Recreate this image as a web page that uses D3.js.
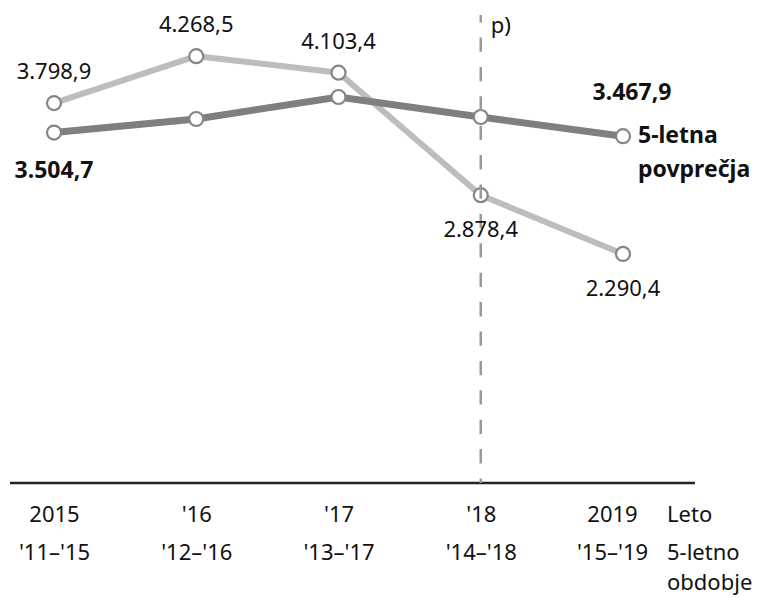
<!DOCTYPE html>
<html>
<head>
<meta charset="utf-8">
<script src="https://cdn.jsdelivr.net/npm/d3@7"></script>
<style>
  body { margin: 0; background: #fff; }
  svg text { font-family: "Noto Sans", sans-serif; fill: #111; }
</style>
</head>
<body>
<div id="chart"></div>
<script>
// Data
const years = ["2015", "'16", "'17", "'18", "2019"];
const periods = ["'11–'15", "'12–'16", "'13–'17", "'14–'18", "'15–'19"];
const annualValues = [3798.9, 4268.5, 4103.4, 2878.4, 2290.4];
const averageValues = [3504.7, 3640, 3860, 3660, 3467.9];
const provisionalYear = "'18";

const width = 758, height = 597;

const svg = d3.select("#chart")
    .append("svg")
    .attr("width", width)
    .attr("height", height);

// Scales
const xScale = d3.scalePoint()
    .domain(years)
    .range([54, 623]);

const yScale = d3.scaleLinear()
    .domain([0, 4830])
    .range([483, 0]);

const fmt = v => d3.format(",.1f")(v).replace(/,/g, "#").replace(".", ",").replace(/#/g, ".");

// X axis line
svg.append("line")
    .attr("x1", 10).attr("x2", 695)
    .attr("y1", yScale(0)).attr("y2", yScale(0))
    .attr("stroke", "#222")
    .attr("stroke-width", 2.5);

// Year labels (first row)
const axisYears = svg.append("g")
    .attr("transform", `translate(0,${yScale(0)})`)
    .call(d3.axisBottom(xScale).tickSize(0).tickPadding(0));
axisYears.select(".domain").remove();
axisYears.selectAll("text")
    .attr("y", 39).attr("dy", null)
    .attr("dx", (d, i) => i === years.length - 1 ? -11 : 0)
    .style("font-size", "22px");

// Period labels (second row)
const periodScale = d3.scalePoint().domain(periods).range(xScale.range());
const axisPeriods = svg.append("g")
    .attr("transform", `translate(0,${yScale(0)})`)
    .call(d3.axisBottom(periodScale).tickSize(0).tickPadding(0));
axisPeriods.select(".domain").remove();
axisPeriods.selectAll("text")
    .attr("y", 77).attr("dy", null)
    .attr("dx", (d, i) => i === periods.length - 1 ? -11 : 0)
    .style("font-size", "22px");

// Row titles
svg.append("text").attr("x", 667).attr("y", 522).text("Leto").style("font-size", "22px");
svg.append("text").attr("x", 667).attr("y", 560).text("5-letno").style("font-size", "22px");
svg.append("text").attr("x", 667).attr("y", 590).text("obdobje").style("font-size", "22px");

// Lines
const line = d3.line()
    .x((d, i) => xScale(years[i]))
    .y(d => yScale(d));

svg.append("path")
    .datum(annualValues)
    .attr("fill", "none")
    .attr("stroke", "#bdbdbd")
    .attr("stroke-width", 6)
    .attr("d", line);

svg.append("path")
    .datum(averageValues)
    .attr("fill", "none")
    .attr("stroke", "#7f7f7f")
    .attr("stroke-width", 7)
    .attr("d", line);

// Markers
[annualValues, averageValues].forEach(series => {
    svg.selectAll(null)
        .data(series)
        .enter().append("circle")
        .attr("cx", (d, i) => xScale(years[i]))
        .attr("cy", d => yScale(d))
        .attr("r", 7)
        .attr("fill", "#fff")
        .attr("stroke", "#858585")
        .attr("stroke-width", 2.2);
});

// Provisional marker line
svg.append("line")
    .attr("x1", xScale(provisionalYear)).attr("x2", xScale(provisionalYear))
    .attr("y1", 15).attr("y2", yScale(0))
    .attr("stroke", "#999")
    .attr("stroke-width", 2.5)
    .attr("stroke-dasharray", "14.3,15.1")
    .attr("stroke-dashoffset", 6.9);

svg.append("text")
    .attr("x", xScale(provisionalYear) + 10)
    .attr("y", 33)
    .text("p)")
    .style("font-size", "22px");

// Annual value labels
svg.selectAll(null)
    .data(annualValues)
    .enter().append("text")
    .attr("x", (d, i) => xScale(years[i]))
    .attr("y", (d, i) => yScale(d) + (i >= 3 ? 42 : -24))
    .attr("text-anchor", "middle")
    .style("font-size", "22px")
    .text(d => fmt(d));

// Average labels (first and last)
const last = averageValues.length - 1;
svg.append("text")
    .attr("x", xScale(years[0]))
    .attr("y", yScale(averageValues[0]) + 45)
    .attr("text-anchor", "middle")
    .style("font-size", "23px")
    .style("font-weight", "bold")
    .text(fmt(averageValues[0]));

svg.append("text")
    .attr("x", xScale(years[last]) + 9)
    .attr("y", yScale(averageValues[last]) - 36)
    .attr("text-anchor", "middle")
    .style("font-size", "23px")
    .style("font-weight", "bold")
    .text(fmt(averageValues[last]));

// Series label
svg.append("text")
    .attr("x", xScale(years[last]) + 15)
    .attr("y", 143)
    .style("font-size", "23px")
    .style("font-weight", "bold")
    .text("5-letna");
svg.append("text")
    .attr("x", xScale(years[last]) + 15)
    .attr("y", 177)
    .style("font-size", "23px")
    .style("font-weight", "bold")
    .text("povprečja");
</script>
</body>
</html>
